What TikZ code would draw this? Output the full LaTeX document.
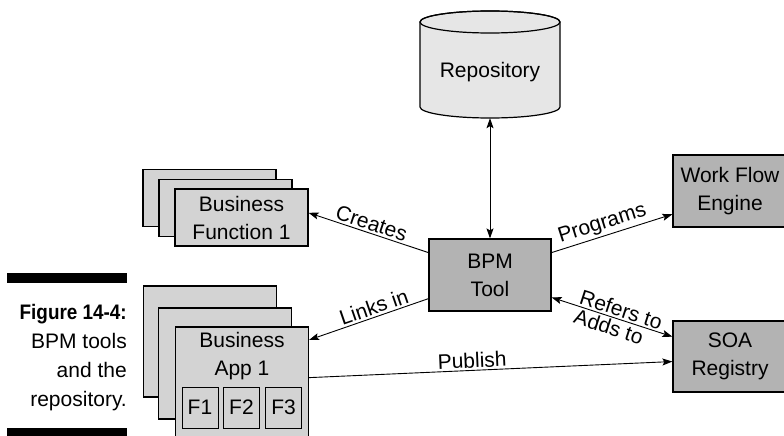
\documentclass[tikz,border=0pt]{standalone}
\usepackage{fontspec}
\setmainfont{Liberation Sans}
\usetikzlibrary{arrows.meta}
\definecolor{repogray}{HTML}{E6E6E6}
\definecolor{boxgray}{HTML}{B3B3B3}
\definecolor{cardgray}{HTML}{D3D3D3}
\newcommand\figtext{\fontsize{21}{28}\selectfont}
\tikzset{
	mainbox/.style={draw, line width=1.2pt, fill=boxgray, minimum width=122pt, minimum height=72pt, align=center, inner sep=0pt},
	sidebox/.style={mainbox, minimum width=114pt},
	card/.style={draw, line width=1.2pt, fill=cardgray, minimum width=133pt, minimum height=57pt, align=center, inner sep=0pt},
	fbox/.style={draw, line width=1pt, fill=cardgray, minimum width=36pt, minimum height=41pt, inner sep=0pt},
	link/.style={line width=0.9pt},
	tag/.style={sloped, inner sep=2pt}
}

\begin{document}
\begin{tikzpicture}[x=1pt, y=-1pt, font=\figtext, >={Stealth[length=10pt,width=7pt,inset=2pt]}]
	\useasboundingbox (0,0) rectangle (784,436);
	\filldraw[fill=repogray, line width=1.2pt] (420,22) -- (420,107) arc[start angle=180, end angle=0, x radius=70, y radius=11] -- (560,22) arc[start angle=0, end angle=-180, x radius=70, y radius=11] -- cycle;
	\draw[line width=1.2pt] (490,22) ellipse [x radius=70, y radius=11];
	\node[minimum width=140pt, minimum height=92pt, inner sep=0pt] (repo) at (490,72) {Repository};
	\node[mainbox] (bpm) at (490,275) {BPM\\Tool};
	\node[sidebox] (wfe) at (730,191) {Work Flow\\Engine};
	\node[sidebox, minimum height=71pt] (soa) at (730,356.5) {SOA\\Registry};
	\node[card] (bfback) at (209.5,198) {};
	\node[card] (bfmid) at (225.5,208) {};
	\node[card] (bf) at (241.5,217.5) {Business\\Function 1};
	\node[card, minimum height=111pt] (appback) at (210,341.5) {};
	\node[card, minimum height=111pt] (appmid) at (225,363.5) {};
	\node[card, minimum height=113pt] (app) at (242,383.5) {};
	\node[align=center] (appname) at (242,356) {Business\\App 1};
	\node[fbox] (f1) at (200,407.5) {F1};
	\node[fbox] (f2) at (241.5,407.5) {F2};
	\node[fbox] (f3) at (283.5,407.5) {F3};
	\draw[link, <->] (repo.south) -- (bpm.north);
	\draw[link, ->] (bpm.160) -- node[tag, above] (creates) {Creates} (bf.4);
	\draw[link, ->] (bpm.201) -- node[tag, above, pos=0.43] (linksin) {Links in} (app.33);
	\draw[link, ->] (bpm.20) -- node[tag, above, pos=0.45] (programs) {Programs} (wfe.202);
	\draw[link, <->] (bpm.-20) -- node[tag, above, pos=0.55] (refers) {Refers to} node[tag, below, pos=0.5] (adds) {Adds to} (soa.161);
	\draw[link, ->] (app.5) -- node[tag, above, pos=0.45] (publish) {Publish} (soa.185);
	\fill (7,273) rectangle (127,283);
	\fill (7,428) rectangle (127,440);
	\node[anchor=base east, align=right, inner sep=0pt, font=\fontsize{21}{29}\selectfont] (caption) at (127,406) {\scalebox{0.9}[1]{\bfseries Figure 14-4:}\\BPM tools\\and the\\repository.};
\end{tikzpicture}
\end{document}
